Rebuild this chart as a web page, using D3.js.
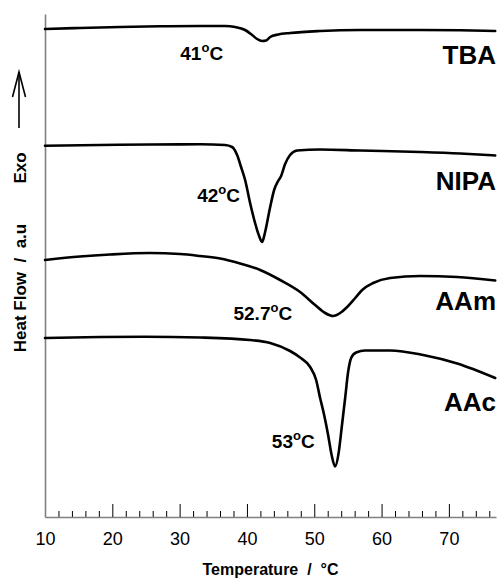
<!DOCTYPE html>
<html>
<head>
<meta charset="utf-8">
<script src="https://cdn.jsdelivr.net/npm/d3@7"></script>
<style>
  html, body { margin: 0; padding: 0; background: #fff; }
  svg { display: block; }
  text { font-family: "Liberation Sans", Arial, sans-serif; }
</style>
</head>
<body>
<svg id="chart" width="501" height="580"></svg>
<script>
// ---- data (temperature in °C, heat flow in arbitrary units) ----
const seriesNames = ["TBA", "NIPA", "AAm", "AAc"];

const tbaTemp = [10, 15.2, 21.15, 27.09, 33.04, 36.75, 38.24, 39.73, 40.77, 41.51, 42.26, 42.85, 43.45, 44.63, 46.41, 50.87, 56.82, 65.74, 71.68, 76.88];
const tbaFlow = [48.8, 48.9, 49.0, 49.07, 49.1, 49.1, 49.0, 48.7, 48.2, 47.8, 47.6, 47.65, 48.0, 48.25, 48.4, 48.6, 48.7, 48.7, 48.67, 48.6];

const nipaTemp = [10, 18.17, 25.6, 33.04, 36.75, 37.79, 38.54, 39.13, 39.73, 40.47, 41.21, 41.81, 42.26, 42.7, 43.45, 44.04, 44.63, 45.08, 45.67, 46.41, 47.45, 50.87, 56.82, 65.74, 71.68, 76.88];
const nipaFlow = [37.13, 37.2, 37.25, 37.27, 37.2, 37.0, 36.2, 35.0, 33.7, 31.4, 29.4, 28.1, 27.5, 28.5, 31.0, 32.7, 33.6, 34.1, 35.3, 36.2, 36.65, 36.75, 36.65, 36.5, 36.35, 36.15];

const aamTemp = [10, 15.2, 19.66, 25.6, 30.07, 33.04, 36.01, 38.98, 41.96, 44.93, 47.9, 50.13, 51.62, 52.81, 53.85, 54.89, 56.08, 57.12, 58.75, 61.28, 65.74, 71.24, 76.88];
const aamFlow = [25.7, 26.05, 26.25, 26.4, 26.3, 26.1, 25.85, 25.35, 24.7, 23.7, 22.5, 21.2, 20.4, 20.1, 20.4, 21.0, 21.9, 22.7, 23.4, 23.9, 24.1, 24.0, 23.65];

const aacTemp = [10, 18.17, 24.86, 33.04, 40.47, 43.45, 46.41, 47.9, 49.39, 50.28, 50.87, 51.47, 52.06, 52.58, 53.1, 53.62, 54.07, 54.59, 55.03, 55.48, 56.22, 57.56, 61.28, 66.18, 71.24, 76.88];
const aacFlow = [17.9, 18.0, 18.03, 17.95, 17.7, 17.4, 16.6, 15.95, 15.0, 13.7, 11.9, 10.2, 8.2, 6.2, 5.05, 6.4, 8.9, 11.9, 14.5, 15.9, 16.45, 16.65, 16.65, 16.2, 15.35, 13.9];

const peakLabels = ["41", "42", "52.7", "53"];
const peakLabelTemp = [30.1, 32.6, 38.0, 43.7];
const peakLabelFlow = [45.7, 31.5, 19.7, 6.9];
const nameLabelFlow = [45.3, 32.7, 20.7, 10.6];

const majorTicks = [10, 20, 30, 40, 50, 60, 70];
const minorTicks = [12, 14, 16, 18, 22, 24, 26, 28, 32, 34, 36, 38, 42, 44, 46, 48, 52, 54, 56, 58, 62, 64, 66, 68, 72, 74, 76];

const xTitle = "Temperature  /  °C";
const yTitle = "Heat Flow  /  a.u";

// ---- chart ----
const svg = d3.select("#chart");
const x = d3.scaleLinear().domain([10, 77]).range([45, 496]);
const y = d3.scaleLinear().domain([0, 50.3]).range([517, 14]);

const axisColor = "#808080";

// minor ticks
const minorAxis = svg.append("g").attr("transform", `translate(0,${y(0)})`)
  .call(d3.axisBottom(x).tickValues(minorTicks).tickSizeInner(-6).tickSizeOuter(0).tickFormat(""));
minorAxis.select(".domain").remove();
minorAxis.selectAll("line").attr("stroke", "#000").attr("stroke-width", 1);

// major ticks + labels
const majorAxis = svg.append("g").attr("transform", `translate(0,${y(0)})`)
  .call(d3.axisBottom(x).tickValues(majorTicks).tickSizeInner(-13).tickSizeOuter(0).tickPadding(15));
majorAxis.select(".domain").attr("stroke", axisColor).attr("stroke-width", 1.6);
majorAxis.selectAll("line").attr("stroke", "#000").attr("stroke-width", 1);
majorAxis.selectAll(".tick").filter(d => d === 10).select("line").remove();
majorAxis.selectAll("text").attr("font-size", 18).attr("fill", "#000")
  .attr("font-family", "Liberation Sans, Arial, sans-serif");

// left axis
const leftAxis = svg.append("g").attr("transform", `translate(${x(10)},0)`)
  .call(d3.axisLeft(y).tickValues([]).tickSizeOuter(0));
leftAxis.select(".domain").attr("stroke", axisColor).attr("stroke-width", 1.6);

// curves
const line = d3.line().x(d => x(d[0])).y(d => y(d[1])).curve(d3.curveMonotoneX);
const temps = [tbaTemp, nipaTemp, aamTemp, aacTemp];
const flows = [tbaFlow, nipaFlow, aamFlow, aacFlow];
temps.forEach((t, i) => {
  const pts = t.map((v, j) => [v, flows[i][j]]);
  svg.append("path").datum(pts).attr("d", line)
    .attr("fill", "none").attr("stroke", "#000").attr("stroke-width", 2.6)
    .attr("stroke-linejoin", "round").attr("stroke-linecap", "round");
});

// series names
seriesNames.forEach((n, i) => {
  svg.append("text").attr("x", x(77)).attr("y", y(nameLabelFlow[i]))
    .attr("text-anchor", "end").attr("font-size", 26).attr("font-weight", "bold").text(n);
});

// peak labels
peakLabels.forEach((p, i) => {
  const t = svg.append("text").attr("x", x(peakLabelTemp[i])).attr("y", y(peakLabelFlow[i]))
    .attr("font-size", 19).attr("font-weight", "bold");
  t.append("tspan").text(p);
  t.append("tspan").attr("font-size", 13).attr("dy", -8).text("o");
  t.append("tspan").attr("dy", 8).text("C");
});

// axis titles
svg.append("text").attr("x", (x(10) + x(77)) / 2).attr("y", 575)
  .attr("text-anchor", "middle").attr("font-size", 16).attr("font-weight", "bold")
  .style("white-space", "pre").text(xTitle);

svg.append("text").attr("transform", "translate(26,288) rotate(-90)")
  .attr("text-anchor", "middle").attr("font-size", 17).attr("font-weight", "bold")
  .style("white-space", "pre").text(yTitle);

svg.append("text").attr("transform", "translate(26,168) rotate(-90)")
  .attr("text-anchor", "middle").attr("font-size", 17).attr("font-weight", "bold").text("Exo");

// Exo arrow
const ag = svg.append("g").attr("stroke", "#000").attr("stroke-width", 1.6).attr("fill", "none");
ag.append("line").attr("x1", 19).attr("y1", 128).attr("x2", 19).attr("y2", 72);
ag.append("polyline").attr("points", "12.5,97 19,72 25.5,97");
</script>
</body>
</html>
